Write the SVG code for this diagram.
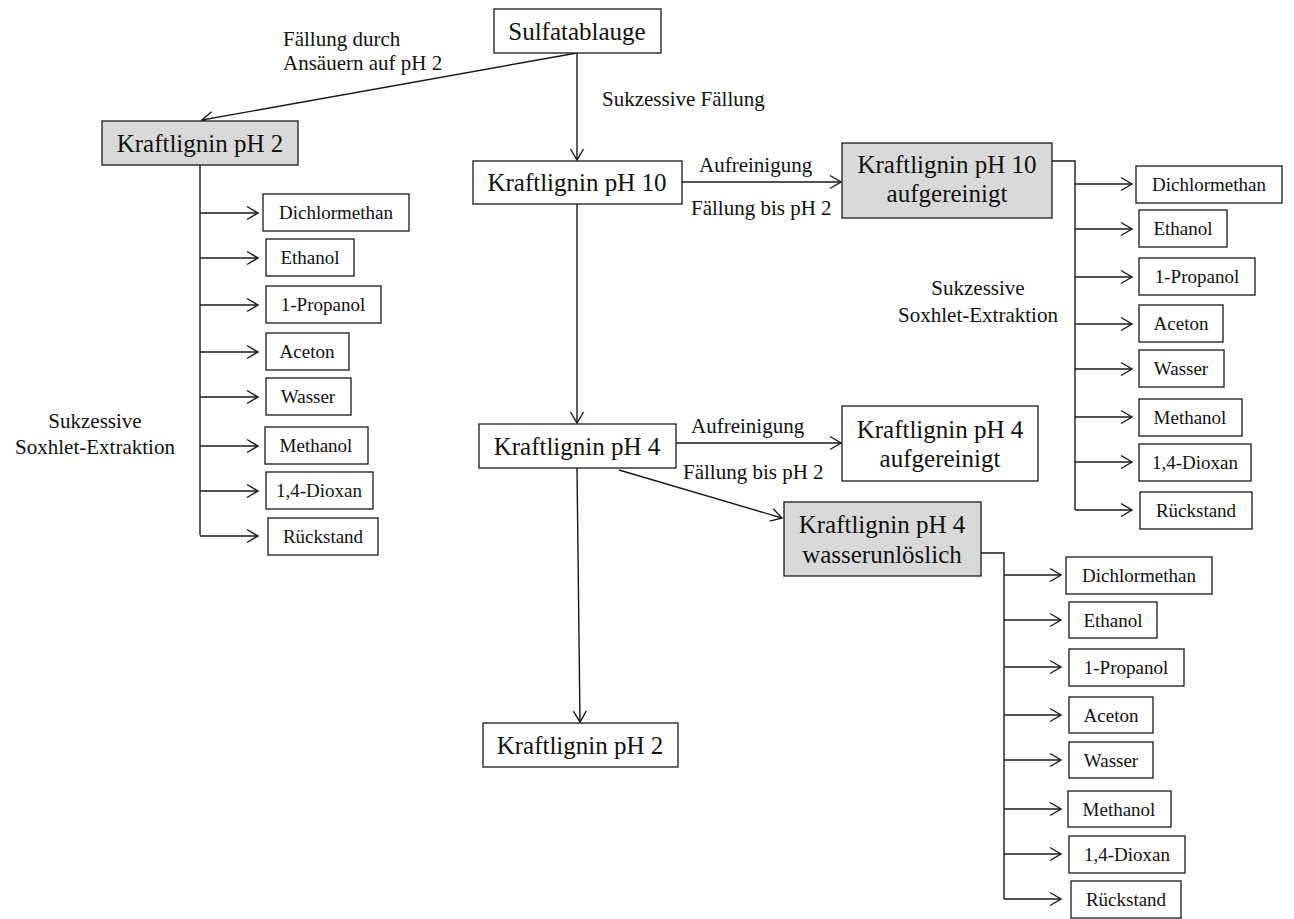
<svg xmlns="http://www.w3.org/2000/svg" width="1294" height="919" viewBox="0 0 1294 919">
  <style>
    .box { fill: #ffffff; stroke: #1a1a1a; stroke-width: 1.3; }
    .gray { fill: #d9d9d9; }
    .line { fill: none; stroke: #1a1a1a; stroke-width: 1.4; }
    .arr { marker-end: url(#chev); }
    text { font-family: "Liberation Serif", "Times New Roman", serif; fill: #111111; }
    .big { font-size: 25px; text-anchor: middle; }
    .sm { font-size: 19px; text-anchor: middle; }
    .lbl { font-size: 21px; }
    .mid { text-anchor: middle; }
  </style>
  <defs>
    <marker id="chev" markerUnits="userSpaceOnUse" markerWidth="14" markerHeight="16" viewBox="-12 -8 14 16" refX="0" refY="0" orient="auto">
      <path d="M-11,-6.5 L0,0 L-11,6.5" fill="none" stroke="#1a1a1a" stroke-width="1.4"/>
    </marker>
  </defs>

  <rect width="1294" height="919" fill="#ffffff"/>

  <!-- connectors -->
  <g id="connectors">
    <!-- from Sulfatablauge -->
    <line class="line arr" x1="577" y1="53" x2="202" y2="120"/>
    <line class="line arr" x1="577" y1="53" x2="577" y2="160"/>
    <!-- pH 10 -->
    <line class="line arr" x1="682" y1="182" x2="841" y2="182"/>
    <line class="line arr" x1="577" y1="204" x2="577" y2="423"/>
    <!-- pH 4 -->
    <line class="line arr" x1="676" y1="443" x2="841" y2="443"/>
    <line class="line arr" x1="619" y1="470" x2="782" y2="518"/>
    <line class="line arr" x1="577" y1="468" x2="580" y2="722"/>

    <!-- left extraction series -->
    <polyline class="line" points="200,165 200,535"/>
    <line class="line arr" x1="200" y1="213" x2="258" y2="213"/>
    <line class="line arr" x1="200" y1="258" x2="258" y2="258"/>
    <line class="line arr" x1="200" y1="305" x2="258" y2="305"/>
    <line class="line arr" x1="200" y1="352" x2="258" y2="352"/>
    <line class="line arr" x1="200" y1="397" x2="258" y2="397"/>
    <line class="line arr" x1="200" y1="446" x2="258" y2="446"/>
    <line class="line arr" x1="200" y1="491" x2="258" y2="491"/>
    <line class="line arr" x1="200" y1="536" x2="258" y2="536"/>

    <!-- upper right extraction series -->
    <polyline class="line" points="1052,161 1075,161 1075,510"/>
    <line class="line arr" x1="1075" y1="184" x2="1132" y2="184"/>
    <line class="line arr" x1="1075" y1="229" x2="1132" y2="229"/>
    <line class="line arr" x1="1075" y1="277" x2="1132" y2="277"/>
    <line class="line arr" x1="1075" y1="324" x2="1132" y2="324"/>
    <line class="line arr" x1="1075" y1="369" x2="1132" y2="369"/>
    <line class="line arr" x1="1075" y1="417" x2="1132" y2="417"/>
    <line class="line arr" x1="1075" y1="462" x2="1132" y2="462"/>
    <line class="line arr" x1="1075" y1="510" x2="1132" y2="510"/>

    <!-- lower right extraction series -->
    <polyline class="line" points="981,553 1004,553 1004,899"/>
    <line class="line arr" x1="1004" y1="575" x2="1061" y2="575"/>
    <line class="line arr" x1="1004" y1="620" x2="1061" y2="620"/>
    <line class="line arr" x1="1004" y1="667" x2="1061" y2="667"/>
    <line class="line arr" x1="1004" y1="715" x2="1061" y2="715"/>
    <line class="line arr" x1="1004" y1="760" x2="1061" y2="760"/>
    <line class="line arr" x1="1004" y1="809" x2="1061" y2="809"/>
    <line class="line arr" x1="1004" y1="854" x2="1061" y2="854"/>
    <line class="line arr" x1="1004" y1="899" x2="1061" y2="899"/>
  </g>

  <!-- edge labels -->
  <g id="labels" class="lbl">
    <text x="283" y="46">Fällung durch</text>
    <text x="283" y="70">Ansäuern auf pH 2</text>
    <text x="602" y="106">Sukzessive Fällung</text>
    <text x="699" y="172">Aufreinigung</text>
    <text x="691" y="215">Fällung bis pH 2</text>
    <text x="691" y="433">Aufreinigung</text>
    <text x="683" y="479">Fällung bis pH 2</text>
    <text class="mid" x="978" y="295">Sukzessive</text>
    <text class="mid" x="978" y="322">Soxhlet-Extraktion</text>
    <text class="mid" x="95" y="428">Sukzessive</text>
    <text class="mid" x="95" y="454">Soxhlet-Extraktion</text>
  </g>

  <!-- main nodes -->
  <g id="n-sulfatablauge">
    <rect class="box" x="494" y="9" width="167" height="44"/>
    <text class="big" x="577" y="40">Sulfatablauge</text>
  </g>
  <g id="n-kl-ph2-acid">
    <rect class="box gray" x="102" y="121" width="196" height="44"/>
    <text class="big" x="200" y="152">Kraftlignin pH 2</text>
  </g>
  <g id="n-kl-ph10">
    <rect class="box" x="473" y="161" width="209" height="43"/>
    <text class="big" x="577" y="191">Kraftlignin pH 10</text>
  </g>
  <g id="n-kl-ph10-pure">
    <rect class="box gray" x="842" y="143" width="210" height="75"/>
    <text class="big" x="947" y="173">Kraftlignin pH 10</text>
    <text class="big" x="947" y="202">aufgereinigt</text>
  </g>
  <g id="n-kl-ph4">
    <rect class="box" x="479" y="424" width="197" height="44"/>
    <text class="big" x="577" y="455">Kraftlignin pH 4</text>
  </g>
  <g id="n-kl-ph4-pure">
    <rect class="box" x="842" y="406" width="196" height="75"/>
    <text class="big" x="940" y="438">Kraftlignin pH 4</text>
    <text class="big" x="940" y="467">aufgereinigt</text>
  </g>
  <g id="n-kl-ph4-insol">
    <rect class="box gray" x="784" y="502" width="197" height="74"/>
    <text class="big" x="882" y="533">Kraftlignin pH 4</text>
    <text class="big" x="882" y="563">wasserunlöslich</text>
  </g>
  <g id="n-kl-ph2-final">
    <rect class="box" x="483" y="723" width="195" height="44"/>
    <text class="big" x="580" y="754">Kraftlignin pH 2</text>
  </g>

  <!-- left solvent fractions -->
  <g id="l-dcm"><rect class="box" x="263" y="194" width="146" height="37"/><text class="sm" x="336" y="219">Dichlormethan</text></g>
  <g id="l-etoh"><rect class="box" x="266" y="239" width="88" height="37"/><text class="sm" x="310" y="264">Ethanol</text></g>
  <g id="l-prop"><rect class="box" x="266" y="286" width="115" height="37"/><text class="sm" x="323" y="311">1-Propanol</text></g>
  <g id="l-acet"><rect class="box" x="266" y="333" width="83" height="37"/><text class="sm" x="307" y="358">Aceton</text></g>
  <g id="l-water"><rect class="box" x="266" y="378" width="85" height="37"/><text class="sm" x="308" y="403">Wasser</text></g>
  <g id="l-meoh"><rect class="box" x="265" y="427" width="103" height="37"/><text class="sm" x="316" y="452">Methanol</text></g>
  <g id="l-diox"><rect class="box" x="266" y="472" width="107" height="37"/><text class="sm" x="319" y="497">1,4-Dioxan</text></g>
  <g id="l-res"><rect class="box" x="268" y="518" width="110" height="37"/><text class="sm" x="323" y="543">Rückstand</text></g>

  <!-- upper right solvent fractions -->
  <g id="r-dcm"><rect class="box" x="1136" y="166" width="146" height="37"/><text class="sm" x="1209" y="191">Dichlormethan</text></g>
  <g id="r-etoh"><rect class="box" x="1139" y="210" width="88" height="37"/><text class="sm" x="1183" y="235">Ethanol</text></g>
  <g id="r-prop"><rect class="box" x="1139" y="258" width="116" height="37"/><text class="sm" x="1197" y="283">1-Propanol</text></g>
  <g id="r-acet"><rect class="box" x="1139" y="305" width="84" height="37"/><text class="sm" x="1181" y="330">Aceton</text></g>
  <g id="r-water"><rect class="box" x="1139" y="350" width="85" height="37"/><text class="sm" x="1181" y="375">Wasser</text></g>
  <g id="r-meoh"><rect class="box" x="1139" y="399" width="103" height="37"/><text class="sm" x="1190" y="424">Methanol</text></g>
  <g id="r-diox"><rect class="box" x="1139" y="444" width="112" height="37"/><text class="sm" x="1195" y="469">1,4-Dioxan</text></g>
  <g id="r-res"><rect class="box" x="1140" y="492" width="112" height="37"/><text class="sm" x="1196" y="517">Rückstand</text></g>

  <!-- lower right solvent fractions -->
  <g id="b-dcm"><rect class="box" x="1066" y="557" width="146" height="37"/><text class="sm" x="1139" y="582">Dichlormethan</text></g>
  <g id="b-etoh"><rect class="box" x="1069" y="602" width="88" height="36"/><text class="sm" x="1113" y="627">Ethanol</text></g>
  <g id="b-prop"><rect class="box" x="1069" y="649" width="115" height="37"/><text class="sm" x="1126" y="674">1-Propanol</text></g>
  <g id="b-acet"><rect class="box" x="1069" y="697" width="84" height="36"/><text class="sm" x="1111" y="722">Aceton</text></g>
  <g id="b-water"><rect class="box" x="1069" y="742" width="84" height="36"/><text class="sm" x="1111" y="767">Wasser</text></g>
  <g id="b-meoh"><rect class="box" x="1068" y="791" width="103" height="36"/><text class="sm" x="1119" y="816">Methanol</text></g>
  <g id="b-diox"><rect class="box" x="1069" y="836" width="116" height="37"/><text class="sm" x="1127" y="861">1,4-Dioxan</text></g>
  <g id="b-res"><rect class="box" x="1071" y="881" width="110" height="37"/><text class="sm" x="1126" y="906">Rückstand</text></g>
</svg>
